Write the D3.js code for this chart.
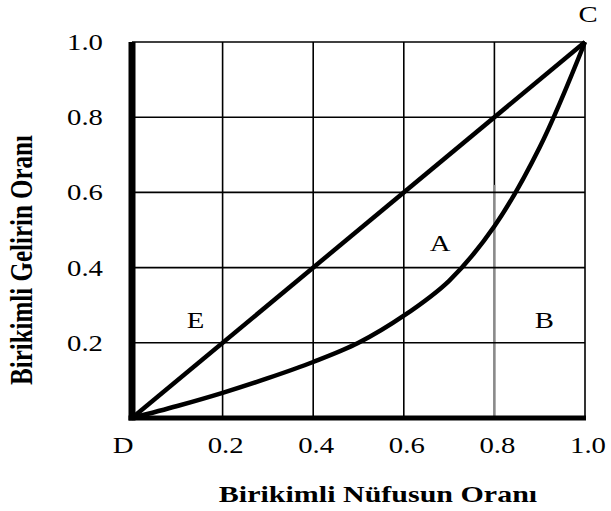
<!DOCTYPE html>
<html>
<head>
<meta charset="utf-8">
<script src="https://cdn.jsdelivr.net/npm/d3@7"></script>
<style>
  body { margin: 0; background: #fff; }
  text { font-family: "Liberation Serif", "Times New Roman", serif; fill: #000; }
</style>
</head>
<body>
<svg id="chart"></svg>
<script>
// DATA
const xTicks = [0.2, 0.4, 0.6, 0.8, 1.0];
const yTicks = [0.2, 0.4, 0.6, 0.8, 1.0];
const equalityX = [0, 1];
const equalityY = [0, 1];
const lorenzX = [0, 0.1, 0.2, 0.3, 0.4, 0.5, 0.6, 0.7, 0.8, 0.9, 1];
const lorenzY = [0, 0.032, 0.067, 0.106, 0.149, 0.2, 0.272, 0.365, 0.51, 0.72, 1];
const areaLabels = ["A", "B", "E", "C"];
const areaLabelX = [0.68, 0.91, 0.14, 1.007];
const areaLabelY = [0.465, 0.26, 0.26, 1.075];

const width = 611, height = 511;
const margin = { top: 42, right: 26, bottom: 93, left: 132 };
const stretch = 1.25; // the source picture is a little wider than tall

const svg = d3.select("#chart").attr("width", width).attr("height", height);

const x = d3.scaleLinear().domain([0, 1]).range([margin.left, width - margin.right]);
const y = d3.scaleLinear().domain([0, 1]).range([height - margin.bottom, margin.top]);

// grid
svg.append("g").selectAll("line").data(xTicks).join("line")
    .attr("x1", d => x(d)).attr("x2", d => x(d))
    .attr("y1", y(0)).attr("y2", y(1))
    .attr("stroke", "#000").attr("stroke-width", 1.6);

// the 0.8 line is lighter in its lower part
svg.append("line")
    .attr("x1", x(0.8)).attr("x2", x(0.8))
    .attr("y1", y(0)).attr("y2", y(0.62))
    .attr("stroke", "#8a8a8a").attr("stroke-width", 2);

svg.append("g").selectAll("line").data(yTicks).join("line")
    .attr("x1", x(0)).attr("x2", x(1))
    .attr("y1", d => y(d)).attr("y2", d => y(d))
    .attr("stroke", "#000").attr("stroke-width", 1.6);

// thick axes
svg.append("line")
    .attr("x1", x(0)).attr("x2", x(0)).attr("y1", y(1)).attr("y2", y(0) + 2.5)
    .attr("stroke", "#000").attr("stroke-width", 7);
svg.append("line")
    .attr("x1", x(0) - 3.5).attr("x2", x(1) + 1).attr("y1", y(0)).attr("y2", y(0))
    .attr("stroke", "#000").attr("stroke-width", 5);

// equality line and Lorenz curve
const line = d3.line().x(d => x(d[0])).y(d => y(d[1]));
svg.append("path")
    .datum(d3.zip(equalityX, equalityY))
    .attr("d", line)
    .attr("fill", "none").attr("stroke", "#000").attr("stroke-width", 4.5);

svg.append("path")
    .datum(d3.zip(lorenzX, lorenzY))
    .attr("d", line.curve(d3.curveCatmullRom.alpha(0.5)))
    .attr("fill", "none").attr("stroke", "#000").attr("stroke-width", 4.5)
    .attr("stroke-linejoin", "round");

// helper: horizontal text, widened like the source
function wideText(g, tx, ty) {
    return g.attr("x", 0).attr("y", 0)
        .attr("transform", (d, i) => `translate(${tx(d, i)},${ty(d, i)}) scale(${stretch},1)`);
}

// tick labels
wideText(svg.append("g").selectAll("text").data(yTicks).join("text"),
        () => x(0) - 29, d => y(d))
    .attr("dy", "0.35em").attr("text-anchor", "end")
    .attr("font-size", 23)
    .text(d => d.toFixed(1));

wideText(svg.append("g").selectAll("text").data(xTicks).join("text"),
        d => x(d) + 3, () => y(0) + 35)
    .attr("text-anchor", "middle").attr("font-size", 23)
    .text(d => d.toFixed(1));

wideText(svg.append("g").selectAll("text").data(["D"]).join("text"),
        () => x(0) - 9, () => y(0) + 35)
    .attr("text-anchor", "middle").attr("font-size", 23)
    .text(d => d);

// region letters
wideText(svg.append("g").selectAll("text").data(areaLabels).join("text"),
        (d, i) => x(areaLabelX[i]), (d, i) => y(areaLabelY[i]))
    .attr("dy", "0.35em").attr("text-anchor", "middle")
    .attr("font-size", 23)
    .text(d => d);

// axis titles
wideText(svg.append("g").selectAll("text").data(["Birikimli Nüfusun Oranı"]).join("text"),
        () => 378, () => 502)
    .attr("text-anchor", "middle").attr("font-size", 24).attr("font-weight", "bold")
    .text(d => d);

svg.append("text")
    .attr("transform", `translate(32, 260) scale(${stretch},1) rotate(-90)`)
    .attr("text-anchor", "middle").attr("font-size", 25).attr("font-weight", "bold")
    .text("Birikimli Gelirin Oranı");
</script>
</body>
</html>
